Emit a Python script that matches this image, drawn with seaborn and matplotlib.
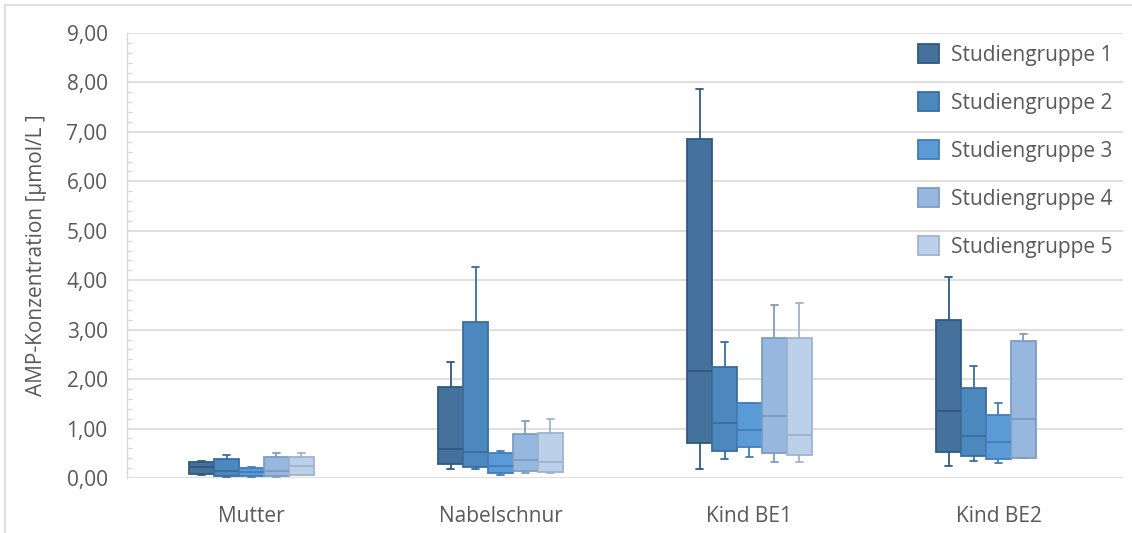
import matplotlib
matplotlib.use("Agg")
import matplotlib.pyplot as plt
from matplotlib.patches import Patch
from matplotlib.lines import Line2D
from matplotlib.ticker import FuncFormatter, MultipleLocator
import numpy as np
import pandas as pd
import seaborn as sns

# Measurement sites and study groups
orte = ["Mutter", "Nabelschnur", "Kind BE1", "Kind BE2"]
gruppen = ["Studiengruppe 1", "Studiengruppe 2", "Studiengruppe 3",
           "Studiengruppe 4", "Studiengruppe 5"]

# Five-number summaries per group (rows) and site (columns); None = no data
w_min = [[0.06, 0.18, 0.18, 0.25],
         [0.02, 0.18, 0.39, 0.34],
         [0.02, 0.07, 0.43, 0.31],
         [0.02, 0.10, 0.32, 0.40],
         [0.06, 0.10, 0.33, None]]
q1 = [[0.08, 0.28, 0.70, 0.53],
      [0.05, 0.22, 0.55, 0.45],
      [0.04, 0.11, 0.62, 0.39],
      [0.05, 0.15, 0.50, 0.41],
      [0.07, 0.13, 0.47, None]]
median = [[0.22, 0.58, 2.17, 1.36],
          [0.14, 0.52, 1.11, 0.85],
          [0.13, 0.25, 0.97, 0.72],
          [0.14, 0.37, 1.26, 1.20],
          [0.24, 0.33, 0.87, None]]
q3 = [[0.33, 1.84, 6.85, 3.20],
      [0.38, 3.16, 2.24, 1.82],
      [0.20, 0.51, 1.51, 1.27],
      [0.43, 0.89, 2.84, 2.78],
      [0.43, 0.90, 2.84, None]]
w_max = [[0.34, 2.35, 7.87, 4.07],
         [0.47, 4.26, 2.75, 2.26],
         [0.22, 0.55, 1.51, 1.51],
         [0.51, 1.16, 3.49, 2.91],
         [0.51, 1.20, 3.53, None]]

fill_colors = ["#44729D", "#4C87BE", "#5A9AD6", "#97B8DE", "#BDD0EA"]
edge_colors = ["#31597F", "#3A6D9C", "#437DB6", "#7E9CC3", "#A0B3CE"]

# Long-form table: each box is described by its five summary points
rows = []
for gi, g in enumerate(gruppen):
    for oi, o in enumerate(orte):
        if median[gi][oi] is None:
            continue
        for v in (w_min[gi][oi], q1[gi][oi], median[gi][oi], q3[gi][oi], w_max[gi][oi]):
            rows.append({"Ort": o, "Gruppe": g, "Wert": v})
df = pd.DataFrame(rows)

sns.set_theme(style="white")
font = ["Open Sans", "DejaVu Sans"]
plt.rcParams["font.family"] = font
text_color = "#595959"
grid_color = "#D9D9D9"

fig = plt.figure(figsize=(11.32, 5.33), dpi=100)
ax = fig.add_axes([0.1122, 0.1032, 0.992 - 0.1122, 0.938 - 0.1032])

sns.boxplot(data=df, x="Ort", y="Wert", hue="Gruppe", order=orte,
            hue_order=gruppen, palette=fill_colors, saturation=1,
            whis=(0, 100), width=0.5, gap=0, linewidth=1.3,
            showfliers=False, capwidths=0.03, legend=False, ax=ax,
            zorder=3)

# Per-group outline colours
for cont, ec in zip(ax.containers, edge_colors):
    for b in cont.boxes:
        b.set_edgecolor(ec)
        b.set_linewidth(1.3)
    for ln in list(cont.medians) + list(cont.whiskers) + list(cont.caps):
        ln.set_color(ec)
        ln.set_linewidth(1.3)

ax.set_ylim(0, 9)
ax.set_xlim(-0.5, 3.5)
ax.yaxis.set_major_locator(MultipleLocator(1))
ax.yaxis.set_minor_locator(MultipleLocator(0.2))
ax.yaxis.set_major_formatter(FuncFormatter(lambda v, p: f"{v:.2f}".replace(".", ",")))
ax.grid(axis="y", color=grid_color, linewidth=1.2, zorder=0)
ax.set_axisbelow(True)

for s in ["top", "right", "bottom"]:
    ax.spines[s].set_visible(False)
ax.spines["left"].set_color(grid_color)
ax.spines["left"].set_linewidth(1.0)

ax.tick_params(axis="y", which="major", length=0, pad=14, labelsize=15,
               labelcolor=text_color)
ax.tick_params(axis="y", which="minor", direction="in", length=3.5,
               width=1.0, color=grid_color, left=True)
ax.tick_params(axis="x", length=0, pad=20, labelsize=15, labelcolor=text_color)

ax.set_xlabel("")
ax.set_ylabel("AMP-Konzentration [µmol/L ]", fontsize=15, color=text_color,
              labelpad=14)

handles = [Patch(facecolor=fc, edgecolor=ec, linewidth=1.3)
           for fc, ec in zip(fill_colors, edge_colors)]
ax.legend(handles, gruppen, loc="upper left", bbox_to_anchor=(0.786, 0.993),
          frameon=False, fontsize=15, labelcolor=text_color,
          handlelength=1.0, handleheight=1.0, handletextpad=0.6,
          labelspacing=1.27, borderaxespad=0.0)

# Light outer frame lines along the left and top edges
fig.add_artist(Line2D([5 / 1132, 5 / 1132], [0, 1 - 5 / 533],
                      transform=fig.transFigure, color=grid_color, linewidth=1.2))
fig.add_artist(Line2D([5 / 1132, 1], [1 - 5 / 533, 1 - 5 / 533],
                      transform=fig.transFigure, color=grid_color, linewidth=1.2))

fig.savefig("out.png", dpi=100, facecolor="white")
